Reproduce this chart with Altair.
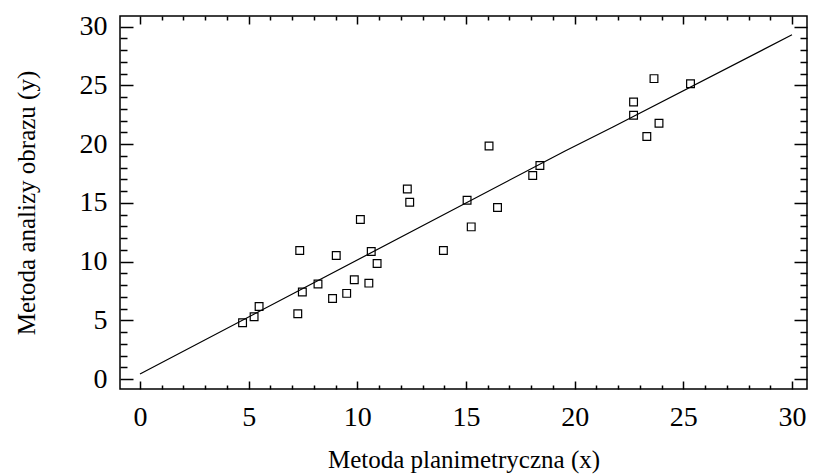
import altair as alt
import pandas as pd

# Measured points (Metoda planimetryczna x, Metoda analizy obrazu y)
x_vals = [4.72, 5.25, 5.48, 7.26, 7.35, 7.47, 8.19, 8.86, 9.03, 9.51,
          9.86, 10.14, 10.53, 10.64, 10.91, 12.30, 12.41, 13.96, 15.05, 15.24,
          16.06, 16.45, 18.07, 18.40, 22.71, 22.71, 23.32, 23.65, 23.88, 25.33]
y_vals = [4.79, 5.30, 6.18, 5.55, 10.94, 7.40, 8.08, 6.86, 10.52, 7.29,
          8.45, 13.58, 8.16, 10.85, 9.83, 16.18, 15.05, 10.94, 15.22, 12.95,
          19.84, 14.60, 17.32, 18.17, 23.58, 22.45, 20.64, 25.57, 21.77, 25.14]

# Fitted line
line_x = [0, 19.56, 21.76, 30]
line_y = [0.43, 19.41, 21.45, 29.3]

x_title = "Metoda planimetryczna (x)"
y_title = "Metoda analizy obrazu (y)"
major_ticks = [0, 5, 10, 15, 20, 25, 30]
all_ticks = list(range(0, 31))

pts = pd.DataFrame({"x": x_vals, "y": y_vals})
fit = pd.DataFrame({"x": line_x, "y": line_y})

W, H = 687, 373
FONT = "Liberation Serif"
xs = alt.Scale(domain=[-0.92, 30.69], nice=False, zero=False)
ys = alt.Scale(domain=[-0.85, 30.9], nice=False, zero=False)


def tick_axis(orient, offset, major, minor):
    return alt.Axis(
        orient=orient, offset=offset, values=all_ticks, labels=False,
        domain=False, grid=False, title=None,
        tickColor="black", tickWidth=1.5,
        tickSize={"condition": {"test": "datum.value % 5 === 0", "value": major},
                  "value": minor},
    )


lab_x = alt.Axis(orient="bottom", values=major_ticks, ticks=False, domain=False,
                 grid=False, labelFont=FONT, labelFontSize=28, labelColor="black",
                 labelPadding=14, title=x_title, titleFont=FONT, titleFontSize=25,
                 titleFontWeight="normal", titleColor="black", titlePadding=16)
lab_y = alt.Axis(orient="left", values=major_ticks, ticks=False, domain=False,
                 grid=False, labelFont=FONT, labelFontSize=28, labelColor="black",
                 labelPadding=13, title=y_title, titleFont=FONT, titleFontSize=25,
                 titleFontWeight="normal", titleColor="black", titlePadding=40)

points = alt.Chart(pts).mark_point(
    shape="square", size=60, filled=False, color="black", strokeWidth=1.2, opacity=1
).encode(
    x=alt.X("x:Q", scale=xs, axis=lab_x),
    y=alt.Y("y:Q", scale=ys, axis=lab_y),
)

line = alt.Chart(fit).mark_line(color="black", strokeWidth=1.2).encode(
    x=alt.X("x:Q", scale=xs, axis=tick_axis("top", -H, 8, 4)),
    y=alt.Y("y:Q", scale=ys, axis=tick_axis("right", -W, 13, 7)),
)

ghost = alt.Chart(fit).mark_line(strokeOpacity=0).encode(
    x=alt.X("x:Q", scale=xs, axis=tick_axis("bottom", -H, 8, 4)),
    y=alt.Y("y:Q", scale=ys, axis=tick_axis("left", -W, 13, 7)),
)

chart = alt.layer(points, line, ghost).resolve_axis(
    x="independent", y="independent"
).properties(
    width=W, height=H,
    autosize=alt.AutoSizeParams(type="none"),
    padding={"left": 112, "top": 8, "right": 1, "bottom": 90},
).configure_view(stroke="black", strokeWidth=1.5)

chart.save("out.html", embed_options={"renderer": "svg", "actions": False})
